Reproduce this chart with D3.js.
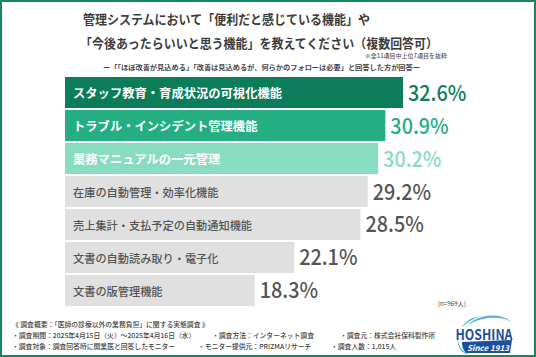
<!DOCTYPE html>
<html><head><meta charset="utf-8">
<script src="https://cdn.jsdelivr.net/npm/d3@7"></script>
<style>
html,body{margin:0;padding:0;background:#fff;}
svg{display:block;}
text{font-family:"Noto Sans CJK JP","Noto Sans",sans-serif;}
</style></head>
<body>
<svg id="c" width="536" height="357"></svg>
<script>
const categories = [
  "スタッフ教育・育成状況の可視化機能",
  "トラブル・インシデント管理機能",
  "業務マニュアルの一元管理",
  "在庫の自動管理・効率化機能",
  "売上集計・支払予定の自動通知機能",
  "文書の自動読み取り・電子化",
  "文書の版管理機能"
];
const values = [32.6, 30.9, 30.2, 29.2, 28.5, 22.1, 18.3];
const barColors = ["#0d7c59", "#24ae82", "#88dcc0", "#e0e0e0", "#e0e0e0", "#e0e0e0", "#e0e0e0"];
const valueColors = ["#0d7c59", "#24ae82", "#88dcc0", "#555555", "#555555", "#555555", "#555555"];
const labelColors = ["#ffffff", "#ffffff", "#ffffff", "#555555", "#555555", "#555555", "#555555"];
const titleLines = [
  "管理システムにおいて「便利だと感じている機能」や",
  "「今後あったらいいと思う機能」を教えてください（複数回答可）"
];
const noteText = "※全11項目中上位7項目を抜粋";
const subtitleText = "ー「「ほぼ改善が見込める」「改善は見込めるが、何らかのフォローは必要」と回答した方が回答ー";
const nText = "(n=969人)";
const footerTitle = "《 調査概要：「医師の診療以外の業務負担」に関する実態調査 》";
const footerItems = [
  ["・調査期間：2025年4月15日（火）～2025年4月16日（水）", "・調査方法：インターネット調査", "・調査元：株式会社保科製作所"],
  ["・調査対象：調査回答時に開業医と回答したモニター", "・モニター提供元：PRIZMAリサーチ", "・調査人数：1,015人"]
];

const svg = d3.select("#c");
const W = 536, H = 357;

// frame
svg.append("rect").attr("x", 1).attr("y", 1).attr("width", W - 2).attr("height", H - 2)
  .attr("fill", "#fff").attr("stroke", "#158761").attr("stroke-width", 2);

// title
const tl = [{t: titleLines[0], x: 83, y: 18, w: 287}, {t: titleLines[1], x: 80, y: 42, w: 358}];
tl.forEach(d => {
  svg.append("text").attr("x", d.x).attr("y", d.y).attr("dominant-baseline", "central")
    .attr("font-size", 12.8).attr("font-weight", 700).attr("fill", "#3c3c3c")
    .attr("textLength", d.w).attr("lengthAdjust", "spacingAndGlyphs").text(d.t);
});
svg.append("text").attr("x", 447).attr("y", 55).attr("text-anchor", "end").attr("dominant-baseline", "central")
  .attr("font-size", 6).attr("fill", "#555").attr("font-weight", 500).text(noteText);
svg.append("text").attr("x", 103).attr("y", 67).attr("dominant-baseline", "central")
  .attr("font-size", 6.6).attr("fill", "#444").attr("font-weight", 700)
  .attr("textLength", 317).attr("lengthAdjust", "spacingAndGlyphs").text(subtitleText);

// scales
const x = d3.scaleLinear().domain([0, 32.6]).range([65, 403]);
const y = d3.scaleBand().domain(categories).range([77, 306]).paddingInner(0.06).paddingOuter(0);

const g = svg.append("g");
g.selectAll("rect.bar").data(values).join("rect").attr("class", "bar")
  .attr("x", x(0)).attr("y", (d, i) => y(categories[i]))
  .attr("width", d => x(d) - x(0)).attr("height", y.bandwidth())
  .attr("fill", (d, i) => barColors[i]);

g.selectAll("text.lab").data(categories).join("text").attr("class", "lab")
  .attr("x", 73).attr("y", d => y(d) + y.bandwidth() / 2 + 0.5)
  .attr("dominant-baseline", "central")
  .attr("font-size", (d, i) => i < 3 ? 12.3 : 11.2)
  .attr("font-weight", (d, i) => i < 3 ? 700 : 500)
  .attr("fill", (d, i) => labelColors[i]).text(d => d);

g.selectAll("text.val").data(values).join("text").attr("class", "val")
  .attr("x", d => x(d) + 5).attr("y", (d, i) => y(categories[i]) + y.bandwidth() / 2 + 8)
  .attr("font-family", "Roboto, sans-serif").attr("font-size", 22).attr("font-weight", 500)
  .attr("fill", (d, i) => valueColors[i]).text(d => d.toFixed(1) + "%")
  .each(function () {
    const L = this.getComputedTextLength();
    d3.select(this).attr("textLength", L * 0.9).attr("lengthAdjust", "spacingAndGlyphs");
  });

svg.append("text").attr("x", 438).attr("y", 303).attr("dominant-baseline", "central")
  .attr("font-size", 6.2).attr("fill", "#444").text(nText);

// footer
svg.append("text").attr("x", 12).attr("y", 324).attr("dominant-baseline", "central")
  .attr("font-size", 6.8).attr("fill", "#444").attr("font-weight", 500).text(footerTitle);
const colX = [[12, 212, 340], [12, 198, 331]];
const rowY = [335, 346];
footerItems.forEach((row, r) => row.forEach((t, c) => {
  svg.append("text").attr("x", colX[r][c]).attr("y", rowY[r]).attr("dominant-baseline", "central")
    .attr("font-size", 6.8).attr("fill", "#444").attr("font-weight", 500).text(t);
}));

// logo
const lg = svg.append("g");
lg.append("path").attr("d", "M468,325 C478,314 500,312 512,322 C502,316 482,316 468,325 Z").attr("fill", "#5aa9e0");
lg.append("path").attr("d", "M462,327 C466,320 474,317 480,316 C472,319 466,323 462,327 Z").attr("fill", "#2fc0c8");
lg.append("text").attr("x", 484).attr("y", 333).attr("text-anchor", "middle").attr("dominant-baseline", "central")
  .attr("font-family", "Roboto, sans-serif").attr("font-weight", 700).attr("font-size", 14.5)
  .attr("fill", "#1d4f9e").attr("textLength", 57).attr("lengthAdjust", "spacingAndGlyphs").text("HOSHINA");
lg.append("path").attr("d", "M462,342 L512,340 L510,353 L466,353 C463,350 462,346 462,342 Z").attr("fill", "#1d4f9e");
lg.append("path").attr("d", "M458,338 C458,346 462,351 468,354 L466,354 C460,351 457,345 458,338 Z").attr("fill", "#2fc0c8");
lg.append("text").attr("x", 488).attr("y", 347.5).attr("text-anchor", "middle").attr("dominant-baseline", "central")
  .attr("font-family", "Liberation Serif, serif").attr("font-style", "italic").attr("font-weight", 700)
  .attr("font-size", 8).attr("fill", "#fff").text("Since 1913");
</script>
</body></html>
